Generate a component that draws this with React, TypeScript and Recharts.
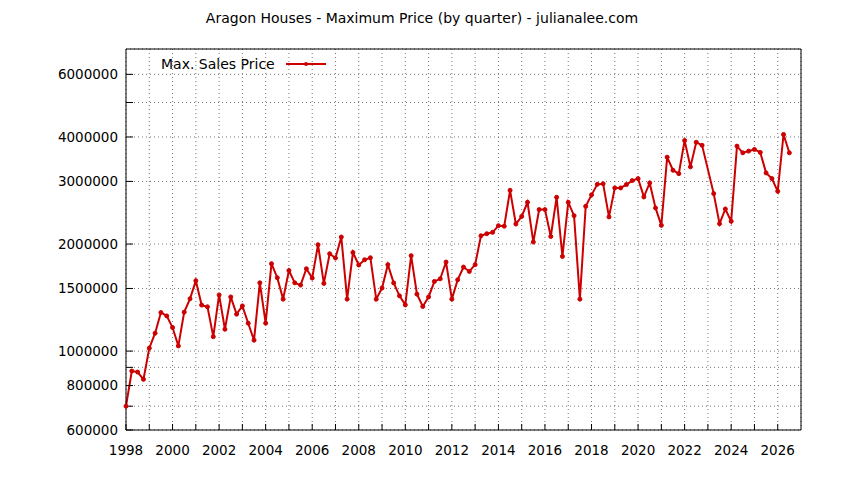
import React from 'react';
import { LineChart, Line, XAxis, YAxis, CartesianGrid } from 'recharts';

// quarterly maximum sales price, 1998 Q1 .. 2026 Q3 (one quarter missing)
const START_YEAR = 1998;
const maxPrice: (number | null)[] = [
  700000, 879000, 873000, 833000, 1019000, 1123000, 1284000, 1256000,
  1165000, 1034000, 1287000, 1403000, 1577000, 1347000, 1332000, 1098000,
  1439000, 1152000, 1420000, 1270000, 1340000, 1198000, 1073000, 1556000,
  1198000, 1761000, 1608000, 1400000, 1685000, 1556000, 1533000, 1704000,
  1605000, 1991000, 1550000, 1878000, 1827000, 2093000, 1400000, 1894000,
  1746000, 1806000, 1830000, 1400000, 1504000, 1750000, 1555000, 1430000,
  1349000, 1855000, 1446000, 1335000, 1420000, 1570000, 1597000, 1780000,
  1400000, 1587000, 1723000, 1675000, 1750000, 2110000, 2138000, 2157000,
  2252000, 2245000, 2832000, 2277000, 2392000, 2620000, 2026000, 2500000,
  2500000, 2100000, 2707000, 1846000, 2620000, 2403000, 1400000, 2553000,
  2750000, 2944000, 2955000, 2384000, 2876000, 2876000, 2940000, 3016000,
  3055000, 2714000, 2970000, 2527000, 2257000, 3510000, 3225000, 3155000,
  3910000, 3296000, 3866000, 3790000, null, 2772000, 2282000, 2510000,
  2317000, 3770000, 3610000, 3650000, 3690000, 3620000, 3170000, 3055000,
  2814000, 4065000, 3610000,
];

const yearTicks: number[] = [];
for (let y = 1998; y <= 2026; y++) yearTicks.push(y);

const priceTicks = [600000, 700000, 800000, 900000, 1000000, 1500000, 2000000, 3000000, 4000000, 5000000, 6000000];
const priceLabels = [600000, 800000, 1000000, 1500000, 2000000, 3000000, 4000000, 6000000];

const data = maxPrice.map((v, i) => ({ t: START_YEAR + i / 4, price: v }));

const RED = '#cc0000';
const FONT = 'DejaVu Sans, sans-serif';
const tickStyle = { fontSize: 13.5, fill: '#000', fontFamily: FONT };

export default function App() {
  return (
    <div style={{ position: 'absolute', left: 0, top: 0, width: 844, height: 480, background: '#fff' }}>
      <div style={{ position: 'absolute', top: 10, width: 844, textAlign: 'center', fontFamily: FONT, fontSize: 14 }}>
        Aragon Houses - Maximum Price (by quarter) - julianalee.com
      </div>
      {/* key box */}
      <div style={{ position: 'absolute', left: 161, top: 56, fontFamily: FONT, fontSize: 14, display: 'flex', alignItems: 'center' }}>
        <span>Max. Sales Price</span>
        <svg width={44} height={10} style={{ marginLeft: 9 }}>
          <line x1={2} y1={5} x2={42} y2={5} stroke={RED} strokeWidth={2} />
          <circle cx={22} cy={5} r={2} fill={RED} />
        </svg>
      </div>
      <LineChart width={844} height={480} data={data} margin={{ top: 48, right: 42, left: 0, bottom: 0 }}>
        <CartesianGrid stroke="#777" strokeDasharray="1 3" />
        <XAxis
          dataKey="t"
          type="number"
          domain={[1998, 2027]}
          ticks={yearTicks}
          interval={0}
          height={50}
          tickSize={-6}
          tickMargin={21}
          stroke="#000"
          tick={tickStyle}
          tickFormatter={(v: number) => (v % 2 === 0 ? String(v) : '')}
        />
        <XAxis
          xAxisId="top"
          orientation="top"
          dataKey="t"
          type="number"
          domain={[1998, 2027]}
          ticks={yearTicks}
          interval={0}
          height={1}
          tickSize={-6}
          stroke="#000"
          tick={false}
        />
        <YAxis
          scale="log"
          type="number"
          domain={[600000, 7070000]}
          allowDataOverflow
          ticks={priceTicks}
          interval={0}
          width={126}
          tickSize={-7}
          tickMargin={15}
          stroke="#000"
          tick={tickStyle}
          tickFormatter={(v: number) => (priceLabels.includes(v) ? String(v) : '')}
        />
        <YAxis
          yAxisId="right"
          orientation="right"
          scale="log"
          type="number"
          domain={[600000, 7070000]}
          allowDataOverflow
          ticks={priceTicks}
          interval={0}
          width={1}
          tickSize={-7}
          stroke="#000"
          tick={false}
        />
        <Line
          dataKey="price"
          stroke={RED}
          strokeWidth={2}
          connectNulls
          dot={{ r: 2, fill: RED, stroke: RED, strokeWidth: 1 }}
          isAnimationActive={false}
        />
      </LineChart>
    </div>
  );
}
